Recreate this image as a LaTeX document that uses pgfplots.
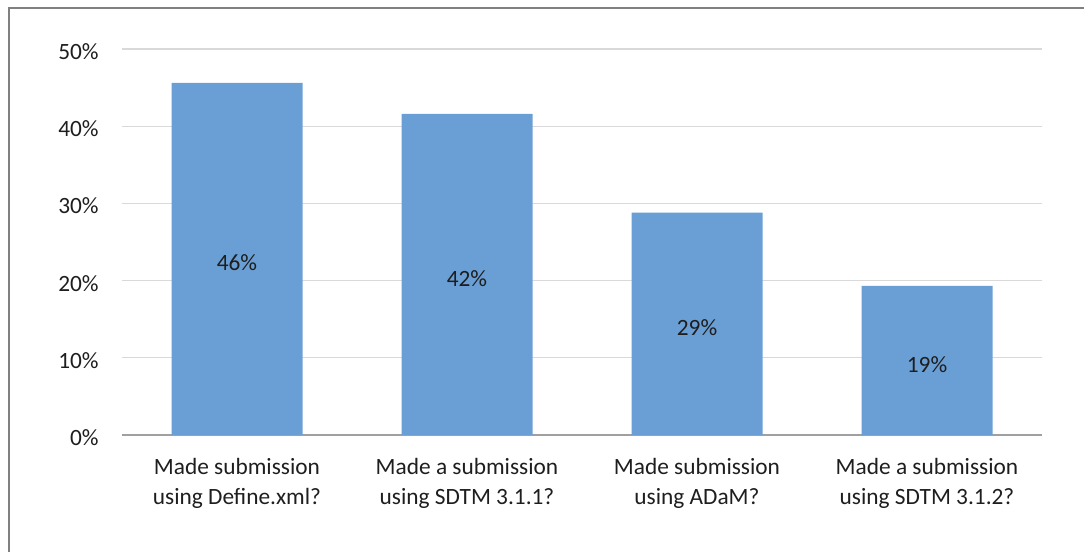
\documentclass[border=0pt]{standalone}
\usepackage{fontspec}
\setmainfont{Carlito}
\usepackage{pgfplots}
\pgfplotsset{compat=1.18}
\definecolor{barblue}{RGB}{106,159,213}
\definecolor{gridgray}{RGB}{217,217,217}
\definecolor{axisgray}{RGB}{160,160,160}
\definecolor{framegray}{RGB}{128,128,128}
\definecolor{txt}{RGB}{30,30,30}
\begin{document}
\begin{tikzpicture}[x=0.75pt,y=0.75pt]
\useasboundingbox (0,0) rectangle (1084,552);
\draw[framegray,line width=0.9pt] (9,0) -- (9,544) -- (1084,544);
\begin{axis}[
  at={(91.5pt,87.75pt)}, anchor=south west,
  scale only axis, width=690pt, height=289.5pt,
  xmin=-0.5, xmax=3.5, ymin=0, ymax=50,
  ytick={0,10,...,50},
  yticklabel={\pgfmathprintnumber{\tick}\%},
  xtick={0,1,2,3},
  xticklabels={{Made submission\\using Define.xml?},{Made a submission\\using SDTM 3.1.1?},{Made submission\\using ADaM?},{Made a submission\\using SDTM 3.1.2?}},
  xticklabel style={align=center, font=\fontsize{17.5pt}{22.5pt}\selectfont, text=txt, yshift=-14pt},
  yticklabel style={font=\fontsize{17.5pt}{21pt}\selectfont, text=txt, xshift=-14pt, yshift=-2pt},
  /pgf/number format/assume math mode=true,
  ymajorgrids, grid style={gridgray, line width=1pt},
  axis y line=left, y axis line style={draw=none},
  axis x line*=bottom, x axis line style={axisgray, line width=1.5pt, -},
  major tick length=0pt,
  ybar, bar width=98.25pt,
  clip=false,
]
\addplot[fill=barblue, draw=none,
  nodes near coords={\pgfmathprintnumber[fixed,precision=0]{\pgfplotspointmeta}\%},
  visualization depends on={y \as \rawy},
  every node near coord/.append style={anchor=center, font=\fontsize{17.5pt}{21pt}\selectfont, text=txt, shift={(axis direction cs:0,-\rawy/2)}, yshift=-3pt},
] coordinates {(0,45.6) (1,41.6) (2,28.8) (3,19.3)};
\end{axis}
\end{tikzpicture}
\end{document}
